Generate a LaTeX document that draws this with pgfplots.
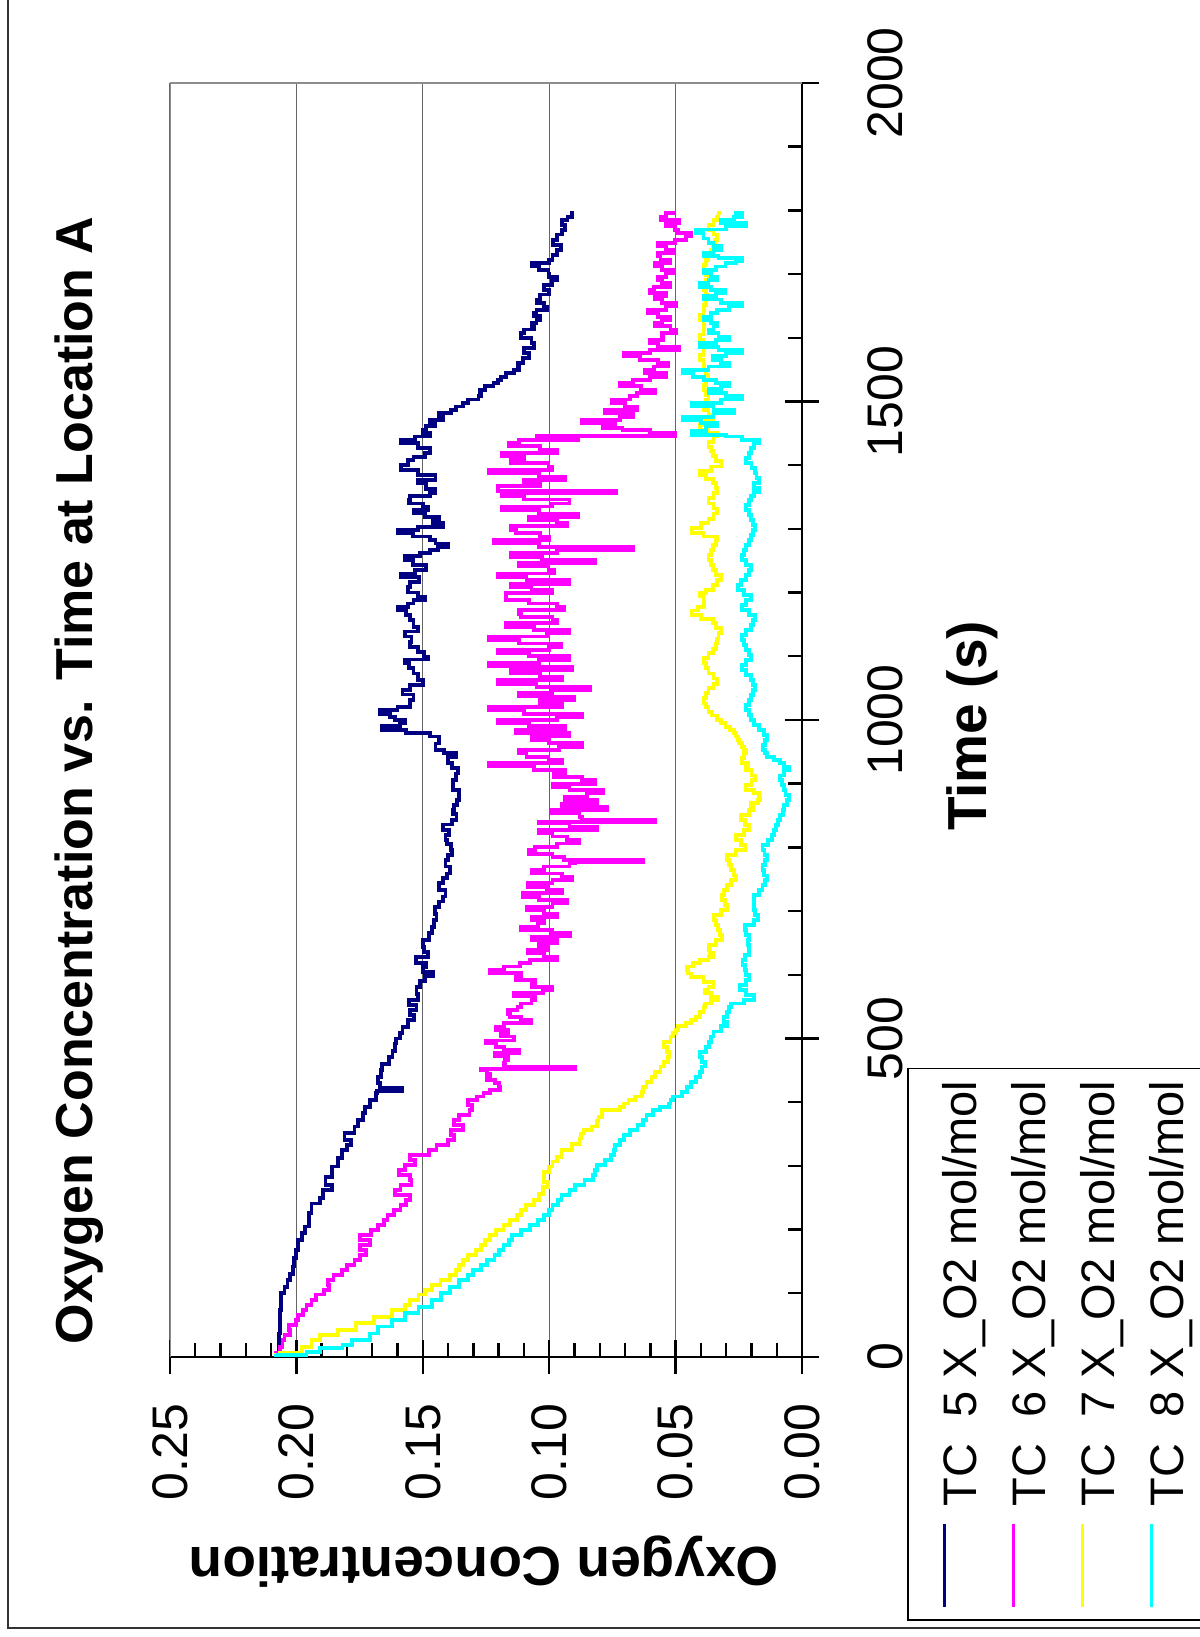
\documentclass[border=0pt]{standalone}
\usepackage{fontspec}
\setmainfont{Liberation Sans}
\usepackage{pgfplots}
\pgfplotsset{compat=1.18}
\definecolor{tcnavy}{RGB}{0,0,128}
\definecolor{tcmag}{RGB}{255,0,255}
\definecolor{tcyel}{RGB}{255,255,0}
\definecolor{tccyan}{RGB}{0,255,255}
\begin{document}
\begin{tikzpicture}
\begin{scope}[rotate=90, transform shape]
\path[use as bounding box] (0,0) rectangle (818.5pt,599.5pt);
\draw[line width=0.9pt, black!80] (4.5pt,-30pt) rectangle (850pt,595.5pt);
\begin{axis}[
  scale only axis, width=637pt, height=316pt,
  at={(140pt,198.5pt)}, anchor=south west,
  xmin=0, xmax=2000, ymin=0, ymax=0.25,
  axis lines*=left,
  axis line style={line width=1.2pt, black},
  xtick={0,500,1000,1500,2000},
  ytick={0,0.05,0.1,0.15,0.2,0.25},
  minor x tick num=4, minor y tick num=4,
  tick align=inside, major tick length=7pt, minor tick length=7pt,
  tick style={line width=1.2pt, black},
  extra x ticks={0,500,1000,1500,2000},
  extra y ticks={0,0.05,0.1,0.15,0.2,0.25},
  extra x tick labels={}, extra y tick labels={},
  extra tick style={tick align=center, major tick length=17pt, grid=none},
  ymajorgrids, grid style={line width=0.5pt, black!60},
  /pgf/number format/assume math mode=true,
  /pgf/number format/1000 sep={},
  ticklabel style={font=\fontsize{25}{25}\selectfont, inner sep=0pt},
  xticklabel style={anchor=north, yshift=-32.5pt},
  yticklabel style={anchor=east, xshift=-23pt,
     /pgf/number format/fixed, /pgf/number format/fixed zerofill,
     /pgf/number format/precision=2},
  label style={font=\fontsize{27.5}{30}\selectfont\bfseries},
  xlabel={Time (s)},
  xlabel style={at={(axis description cs:0.4953,-0.2927)}, anchor=base},
  ylabel={Oxygen Concentration},
  ylabel style={at={(axis description cs:-0.1499,0.5032)}, anchor=base, rotate=0},
  title={Oxygen Concentration vs. Time at Location A},
  title style={font=\fontsize{26}{30}\selectfont\bfseries, at={(axis description cs:0.4525,1.1038)}, anchor=base},
  legend cell align=left,
  legend style={at={(axis description cs:-0.2072,-0.1669)}, anchor=north west,
     draw=black, line width=0.9pt, inner xsep=6pt, inner ysep=16.8pt,
     row sep=16pt, column sep=8pt,
     font=\fontsize{23.5}{26}\selectfont, nodes={inner sep=0pt}},
  legend image code/.code={\draw[#1, line width=1.4pt] (0pt,8pt) -- (41.5pt,8pt);},
]
\addplot[const plot, color=tcnavy, line width=1.9pt] coordinates {
(0,0.208) (6,0.207) (37,0.2065) (74,0.206) (100,0.2047) (110,0.2035) (121,0.2025) (130,0.2015) (142,0.201) (155,0.2)
(168,0.1994) (184,0.1977) (195,0.1965) (205,0.195) (215,0.195) (226,0.194) (241,0.1906) (250,0.1895) (262,0.186) (270,0.1885)
(283,0.186) (299,0.1835) (312,0.182) (325,0.18) (333,0.1785) (341,0.181) (352,0.177) (362,0.1756) (372,0.1735) (383,0.173)
(393,0.171) (403,0.1685) (414,0.168) (418,0.158) (422,0.167) (430,0.1676) (440,0.1665) (450,0.166) (460,0.1635) (471,0.162)
(480,0.161) (492,0.1605) (500,0.159) (508,0.158) (518,0.156) (529,0.1535) (537,0.155) (545,0.1525) (552,0.1555) (560,0.152)
(570,0.1525) (581,0.151) (590,0.149) (598,0.146) (605,0.150) (612,0.1485) (618,0.1526) (628,0.148) (636,0.1495) (644,0.150)
(655,0.1475) (665,0.1464) (675,0.1455) (686,0.1446) (696,0.1452) (707,0.1437) (715,0.142) (723,0.141) (733,0.1435) (744,0.142)
(752,0.1405) (759,0.1393) (770,0.141) (780,0.140) (788,0.1385) (796,0.139) (805,0.1405) (812,0.141) (820,0.1395) (827,0.142)
(836,0.1385) (843,0.1367) (852,0.138) (859,0.1375) (867,0.1365) (874,0.1358) (890,0.138) (906,0.137) (916,0.136) (925,0.1385)
(932,0.140) (942,0.137) (948,0.1415) (953,0.145) (963,0.1437) (974,0.147) (980,0.1565) (984,0.166) (990,0.159) (995,0.157)
(1000,0.161) (1005,0.163) (1010,0.167) (1016,0.16) (1021,0.155) (1031,0.1537) (1040,0.158) (1047,0.155) (1055,0.150) (1063,0.152)
(1073,0.1537) (1081,0.1555) (1089,0.157) (1095,0.148) (1099,0.1495) (1107,0.152) (1115,0.155) (1123,0.1545) (1131,0.157) (1139,0.152)
(1146,0.1537) (1157,0.155) (1165,0.1565) (1173,0.160) (1178,0.156) (1183,0.1537) (1188,0.149) (1194,0.152) (1200,0.156) (1209,0.155)
(1217,0.1515) (1225,0.1587) (1230,0.153) (1235,0.1487) (1243,0.154) (1251,0.157) (1257,0.151) (1262,0.147) (1267,0.144) (1272,0.140)
(1277,0.145) (1283,0.147) (1288,0.154) (1293,0.160) (1298,0.152) (1303,0.142) (1309,0.146) (1314,0.1437) (1319,0.149) (1324,0.1537)
(1330,0.148) (1335,0.150) (1340,0.1555) (1345,0.155) (1351,0.147) (1356,0.145) (1362,0.1487) (1367,0.1487) (1372,0.152) (1377,0.145)
(1385,0.152) (1393,0.1587) (1400,0.156) (1408,0.1537) (1413,0.149) (1419,0.147) (1427,0.152) (1435,0.1587) (1440,0.153) (1445,0.147)
(1451,0.150) (1456,0.1487) (1461,0.145) (1466,0.147) (1471,0.142) (1476,0.1437) (1482,0.139) (1487,0.137) (1492,0.134) (1497,0.132)
(1503,0.128) (1508,0.127) (1513,0.1275) (1518,0.1253) (1524,0.122) (1529,0.1203) (1534,0.119) (1539,0.117) (1545,0.114) (1550,0.112)
(1555,0.1125) (1560,0.1103) (1568,0.108) (1576,0.110) (1584,0.106) (1592,0.107) (1600,0.111) (1607,0.110) (1613,0.106) (1618,0.107)
(1623,0.105) (1628,0.1037) (1634,0.106) (1639,0.105) (1644,0.101) (1649,0.102) (1655,0.105) (1660,0.1037) (1668,0.100) (1675,0.102)
(1683,0.099) (1691,0.097) (1696,0.1) (1701,0.1003) (1707,0.104) (1712,0.107) (1717,0.1) (1722,0.0987) (1730,0.097) (1738,0.0953)
(1746,0.0985) (1754,0.097) (1762,0.095) (1769,0.0937) (1777,0.095) (1785,0.0928) (1790,0.091) (1796,0.090)
};
\addplot[const plot, color=tcmag, line width=1.9pt] coordinates {
(0,0.208) (6,0.2065) (16,0.2055) (27,0.2047) (35,0.2025) (42,0.203) (50,0.2) (58,0.1994) (66,0.1975) (74,0.196)
(82,0.194) (90,0.1924) (98,0.189) (105,0.187) (113,0.1875) (121,0.1853) (129,0.182) (137,0.180) (145,0.177) (152,0.1747)
(160,0.1725) (168,0.1747) (176,0.171) (184,0.1747) (192,0.1705) (199,0.1676) (207,0.1655) (215,0.164) (223,0.1615) (231,0.1588)
(238,0.1565) (246,0.155) (254,0.161) (262,0.1588) (270,0.1545) (278,0.155) (286,0.1595) (294,0.157) (301,0.153) (309,0.155)
(317,0.1475) (325,0.1446) (333,0.140) (341,0.1376) (348,0.139) (356,0.134) (364,0.1375) (372,0.1358) (380,0.1315) (388,0.1305)
(396,0.132) (403,0.1287) (409,0.126) (414,0.1234) (419,0.1195) (424,0.120) (430,0.1215) (435,0.1245) (440,0.1234) (445,0.1245)
(450,0.127) (452,0.0898) (455,0.118) (461,0.1175) (466,0.1163) (472,0.1215) (477,0.112) (482,0.118) (487,0.121) (492,0.125)
(497,0.114) (503,0.119) (508,0.1163) (513,0.121) (518,0.118) (524,0.107) (529,0.111) (534,0.1155) (539,0.1163) (545,0.1125)
(550,0.111) (555,0.107) (560,0.1057) (566,0.114) (571,0.1025) (576,0.0987) (581,0.107) (587,0.1057) (592,0.113) (597,0.111)
(603,0.1235) (608,0.118) (613,0.1115) (618,0.1075) (623,0.097) (628,0.102) (634,0.1085) (639,0.101) (644,0.104) (650,0.097)
(655,0.107) (660,0.0916) (665,0.099) (670,0.111) (675,0.1045) (681,0.102) (686,0.107) (691,0.097) (696,0.102) (702,0.109)
(707,0.0987) (712,0.093) (717,0.104) (722,0.1105) (728,0.095) (733,0.101) (738,0.1085) (744,0.0987) (749,0.091) (754,0.095)
(759,0.107) (764,0.102) (770,0.092) (775,0.0898) (777,0.063) (780,0.094) (785,0.0987) (790,0.108) (796,0.1057) (801,0.097)
(806,0.088) (811,0.093) (817,0.0987) (822,0.104) (827,0.081) (832,0.092) (838,0.104) (840,0.058) (843,0.087) (848,0.088)
(854,0.099) (859,0.077) (864,0.095) (869,0.081) (874,0.0937) (880,0.085) (885,0.0787) (890,0.092) (895,0.0987) (900,0.082)
(906,0.087) (911,0.098) (916,0.0937) (922,0.106) (927,0.1237) (932,0.095) (937,0.1003) (942,0.109) (948,0.112) (953,0.096)
(958,0.087) (964,0.100) (969,0.107) (974,0.092) (979,0.113) (984,0.0937) (990,0.108) (995,0.1203) (1000,0.097) (1005,0.087)
(1010,0.110) (1016,0.1237) (1021,0.095) (1026,0.1037) (1031,0.090) (1037,0.112) (1042,0.099) (1047,0.0837) (1052,0.105) (1057,0.1203)
(1063,0.095) (1068,0.1037) (1073,0.115) (1078,0.091) (1084,0.1237) (1089,0.104) (1094,0.092) (1100,0.108) (1105,0.1203) (1110,0.100)
(1115,0.0953) (1120,0.112) (1126,0.1237) (1131,0.101) (1136,0.092) (1141,0.106) (1146,0.117) (1152,0.097) (1157,0.0987) (1162,0.111)
(1167,0.112) (1173,0.094) (1178,0.097) (1183,0.108) (1188,0.117) (1194,0.117) (1199,0.099) (1204,0.107) (1209,0.115) (1214,0.092)
(1220,0.109) (1225,0.1203) (1230,0.098) (1235,0.1003) (1241,0.112) (1246,0.082) (1251,0.103) (1256,0.1153) (1262,0.097) (1267,0.067)
(1272,0.104) (1277,0.122) (1283,0.100) (1288,0.1037) (1293,0.113) (1298,0.1153) (1304,0.093) (1309,0.097) (1314,0.108) (1319,0.0887)
(1324,0.104) (1330,0.1187) (1335,0.099) (1340,0.092) (1346,0.110) (1351,0.1187) (1356,0.0737) (1360,0.1203) (1367,0.1037) (1372,0.110)
(1377,0.0937) (1382,0.104) (1388,0.1237) (1393,0.099) (1398,0.1003) (1403,0.115) (1408,0.110) (1414,0.1187) (1419,0.097) (1424,0.1037)
(1430,0.116) (1435,0.112) (1440,0.0887) (1443,0.105) (1446,0.0503) (1450,0.060) (1455,0.071) (1458,0.0787) (1462,0.074) (1466,0.087)
(1471,0.072) (1476,0.067) (1482,0.078) (1487,0.0653) (1492,0.070) (1497,0.0753) (1503,0.068) (1508,0.0653) (1513,0.058) (1518,0.0637)
(1524,0.072) (1529,0.067) (1534,0.060) (1539,0.0537) (1545,0.062) (1550,0.0587) (1555,0.053) (1560,0.057) (1565,0.064) (1571,0.0703)
(1576,0.060) (1581,0.0487) (1586,0.057) (1592,0.060) (1597,0.055) (1602,0.0553) (1607,0.050) (1613,0.052) (1618,0.058) (1623,0.0553)
(1628,0.052) (1633,0.057) (1639,0.061) (1644,0.0537) (1649,0.050) (1654,0.0553) (1660,0.058) (1665,0.0537) (1670,0.060) (1675,0.0587)
(1680,0.052) (1686,0.0553) (1691,0.057) (1696,0.0537) (1701,0.051) (1707,0.0553) (1712,0.058) (1717,0.052) (1722,0.056) (1728,0.057)
(1733,0.051) (1738,0.0537) (1744,0.057) (1749,0.0503) (1754,0.046) (1759,0.0437) (1764,0.049) (1769,0.0503) (1775,0.054) (1780,0.0487)
(1785,0.056) (1790,0.0537) (1796,0.0503)
};
\addplot[const plot, color=tcyel, line width=1.9pt] coordinates {
(0,0.208) (4,0.2065) (6,0.1977) (16,0.194) (27,0.1906) (35,0.1835) (42,0.1765) (53,0.1694) (63,0.1623) (74,0.157)
(82,0.155) (90,0.1517) (98,0.149) (105,0.1464) (113,0.143) (121,0.1393) (129,0.137) (137,0.1358) (145,0.134) (152,0.1322)
(160,0.129) (168,0.127) (176,0.1255) (184,0.1234) (192,0.121) (199,0.1181) (207,0.1155) (215,0.1128) (223,0.111) (231,0.1093)
(238,0.106) (246,0.104) (256,0.1025) (267,0.1004) (275,0.1022) (283,0.1022) (291,0.1) (299,0.0987) (307,0.097) (314,0.0951)
(325,0.091) (335,0.088) (343,0.0875) (351,0.0863) (356,0.083) (362,0.081) (370,0.0805) (377,0.0792) (388,0.0721) (393,0.0704)
(398,0.0686) (403,0.066) (409,0.0633) (416,0.063) (424,0.0615) (432,0.0595) (440,0.058) (448,0.056) (456,0.0545) (463,0.053)
(471,0.0527) (479,0.0535) (487,0.0545) (495,0.052) (503,0.0509) (508,0.050) (513,0.0492) (519,0.046) (524,0.0438) (529,0.042)
(534,0.0403) (542,0.039) (550,0.0385) (555,0.036) (560,0.0332) (566,0.036) (571,0.0385) (576,0.037) (581,0.035) (589,0.039)
(597,0.0438) (602,0.045) (607,0.0456) (613,0.043) (618,0.0403) (623,0.037) (628,0.035) (634,0.0365) (639,0.0368) (647,0.034)
(655,0.0315) (662,0.0325) (670,0.0332) (678,0.034) (686,0.035) (694,0.032) (702,0.0297) (710,0.0305) (717,0.0315) (725,0.031)
(733,0.0297) (741,0.028) (749,0.0262) (756,0.027) (764,0.028) (772,0.029) (780,0.0297) (788,0.026) (796,0.0226) (804,0.024)
(812,0.0262) (820,0.023) (827,0.0209) (835,0.0225) (843,0.024) (851,0.021) (859,0.0195) (864,0.0203) (870,0.0175) (874,0.0165)
(880,0.017) (885,0.019) (890,0.022) (898,0.020) (906,0.0187) (913,0.020) (921,0.022) (926,0.0215) (932,0.0237) (940,0.023)
(948,0.022) (953,0.023) (958,0.0237) (964,0.025) (969,0.0253) (974,0.026) (979,0.027) (984,0.0285) (989,0.0303) (995,0.032)
(1000,0.0337) (1007,0.0355) (1013,0.037) (1020,0.038) (1026,0.0387) (1034,0.038) (1042,0.037) (1050,0.035) (1057,0.0337) (1065,0.035)
(1073,0.037) (1081,0.038) (1089,0.0387) (1097,0.037) (1105,0.0353) (1112,0.034) (1120,0.0337) (1128,0.033) (1136,0.032) (1144,0.034)
(1152,0.0353) (1158,0.040) (1165,0.0437) (1172,0.041) (1178,0.0387) (1186,0.039) (1194,0.0403) (1199,0.038) (1204,0.0353) (1212,0.0335)
(1220,0.032) (1228,0.034) (1235,0.0353) (1243,0.036) (1251,0.037) (1259,0.036) (1267,0.0353) (1275,0.034) (1283,0.0337) (1288,0.039)
(1293,0.0437) (1301,0.040) (1309,0.037) (1316,0.035) (1324,0.0337) (1332,0.035) (1340,0.037) (1348,0.035) (1356,0.0337) (1364,0.034)
(1372,0.0353) (1378,0.038) (1385,0.0403) (1391,0.036) (1398,0.032) (1406,0.034) (1414,0.0353) (1422,0.036) (1429,0.037) (1437,0.035)
(1445,0.0337) (1450,0.037) (1456,0.0403) (1463,0.038) (1471,0.0353) (1479,0.037) (1487,0.0387) (1495,0.038) (1503,0.037) (1510,0.038)
(1518,0.0387) (1526,0.038) (1534,0.037) (1542,0.038) (1550,0.0387) (1557,0.039) (1565,0.0403) (1573,0.039) (1581,0.0387) (1589,0.039)
(1597,0.0403) (1605,0.039) (1613,0.0387) (1620,0.039) (1628,0.0403) (1636,0.039) (1644,0.0387) (1652,0.038) (1660,0.037) (1668,0.038)
(1675,0.0387) (1683,0.038) (1691,0.037) (1699,0.038) (1707,0.0387) (1714,0.038) (1722,0.037) (1730,0.036) (1738,0.0353) (1746,0.0345)
(1754,0.0337) (1762,0.035) (1769,0.037) (1777,0.035) (1785,0.0337) (1790,0.033) (1796,0.032)
};
\addplot[const plot, color=tccyan, line width=1.9pt] coordinates {
(0,0.208) (1,0.2074) (3,0.196) (8,0.1906) (14,0.1818) (19,0.178) (27,0.171) (37,0.1676) (48,0.1623) (58,0.157)
(69,0.1517) (79,0.1464) (90,0.1429) (100,0.1393) (110,0.1358) (121,0.1322) (129,0.130) (137,0.127) (145,0.1245) (152,0.1216)
(160,0.120) (168,0.1181) (176,0.116) (184,0.1146) (192,0.111) (199,0.1075) (207,0.1045) (215,0.1022) (223,0.100) (231,0.0987)
(238,0.0965) (246,0.0951) (254,0.092) (262,0.0898) (270,0.086) (278,0.0827) (286,0.082) (294,0.081) (301,0.078) (309,0.0757)
(317,0.0745) (325,0.0739) (333,0.072) (341,0.0704) (348,0.068) (356,0.0651) (364,0.063) (372,0.0615) (380,0.059) (388,0.0562)
(393,0.0527) (398,0.052) (403,0.0509) (409,0.0474) (416,0.0455) (424,0.0438) (432,0.042) (440,0.0403) (448,0.0395) (456,0.0385)
(463,0.0395) (471,0.0403) (479,0.038) (487,0.0368) (495,0.036) (503,0.035) (511,0.032) (519,0.0297) (526,0.031) (534,0.0297)
(542,0.029) (550,0.028) (555,0.023) (560,0.0191) (568,0.022) (576,0.0244) (584,0.022) (592,0.0209) (600,0.022) (608,0.0226)
(615,0.0235) (623,0.0226) (631,0.021) (639,0.0209) (647,0.0215) (655,0.0209) (662,0.022) (670,0.0226) (678,0.019) (686,0.0173)
(694,0.0185) (702,0.0191) (710,0.019) (717,0.0191) (725,0.017) (733,0.0156) (741,0.0145) (749,0.0138) (756,0.015) (764,0.0156)
(772,0.0145) (780,0.0138) (788,0.0148) (796,0.0156) (804,0.0135) (812,0.012) (820,0.011) (827,0.0103) (835,0.0095) (843,0.0087)
(851,0.0075) (859,0.007) (866,0.006) (874,0.0053) (882,0.0065) (890,0.007) (898,0.008) (906,0.0087) (913,0.007) (921,0.0053)
(926,0.007) (932,0.0087) (937,0.011) (942,0.0137) (948,0.0145) (953,0.0153) (961,0.0145) (969,0.0137) (976,0.015) (984,0.017)
(992,0.019) (1000,0.0203) (1008,0.021) (1016,0.022) (1024,0.021) (1031,0.0203) (1039,0.0195) (1047,0.0187) (1055,0.0195) (1063,0.0203)
(1071,0.022) (1078,0.0237) (1086,0.022) (1094,0.0203) (1102,0.021) (1110,0.022) (1118,0.023) (1126,0.0237) (1133,0.022) (1141,0.0203)
(1149,0.0195) (1157,0.0187) (1165,0.021) (1173,0.0237) (1180,0.022) (1188,0.0203) (1196,0.023) (1204,0.0253) (1212,0.024) (1220,0.022)
(1228,0.021) (1235,0.0203) (1243,0.022) (1251,0.0237) (1259,0.023) (1267,0.022) (1275,0.021) (1283,0.0203) (1290,0.0195) (1298,0.0187)
(1306,0.0195) (1314,0.0203) (1322,0.021) (1330,0.022) (1338,0.021) (1345,0.0203) (1352,0.019) (1358,0.017) (1364,0.019) (1372,0.017)
(1380,0.018) (1388,0.0187) (1396,0.020) (1403,0.022) (1411,0.021) (1419,0.0203) (1427,0.019) (1435,0.017) (1440,0.0237) (1445,0.030)
(1448,0.0437) (1454,0.038) (1461,0.0337) (1466,0.040) (1471,0.047) (1476,0.035) (1482,0.027) (1487,0.035) (1492,0.0437) (1497,0.032)
(1503,0.0237) (1508,0.030) (1513,0.037) (1519,0.032) (1524,0.0287) (1529,0.034) (1534,0.0387) (1539,0.043) (1544,0.047) (1550,0.037)
(1555,0.0287) (1560,0.032) (1565,0.0353) (1571,0.030) (1576,0.0237) (1581,0.033) (1586,0.0403) (1592,0.034) (1597,0.0287) (1602,0.033)
(1607,0.037) (1613,0.035) (1618,0.0337) (1623,0.036) (1628,0.0387) (1633,0.036) (1639,0.0337) (1644,0.029) (1649,0.0237) (1655,0.032)
(1660,0.0387) (1665,0.034) (1670,0.0303) (1675,0.036) (1680,0.0403) (1686,0.037) (1691,0.0337) (1696,0.036) (1701,0.0387) (1707,0.034)
(1712,0.0303) (1717,0.026) (1720,0.0237) (1725,0.033) (1728,0.0387) (1733,0.035) (1738,0.032) (1744,0.035) (1749,0.037) (1756,0.039)
(1764,0.042) (1770,0.03) (1775,0.022) (1780,0.032) (1785,0.027) (1790,0.0237) (1796,0.027)
};
\legend{TC\ \ 5 X\_O2 mol/mol, TC\ \ 6 X\_O2 mol/mol, TC\ \ 7 X\_O2 mol/mol, TC\ \ 8 X\_O2 mol/mol}
\draw[line width=1.2pt, black!45] (rel axis cs:0,1) -- (rel axis cs:1,1) -- (rel axis cs:1,0);
\end{axis}
\end{scope}
\end{tikzpicture}
\end{document}
